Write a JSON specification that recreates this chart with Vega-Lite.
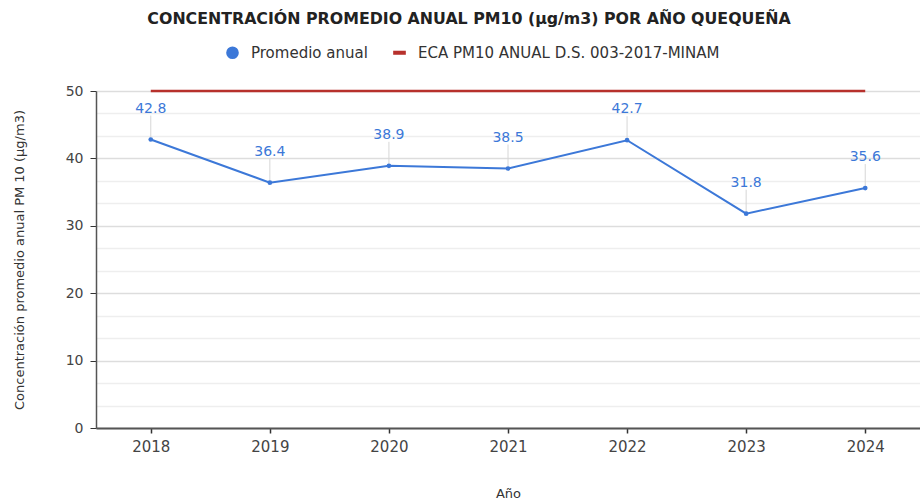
{
  "$schema": "https://vega.github.io/schema/vega-lite/v6.json",
  "width": 824,
  "height": 337,
  "autosize": {"type": "none"},
  "padding": {"left": 96, "top": 91, "right": 0, "bottom": 76},
  "background": "white",
  "title": {
    "text": "CONCENTRACIÓN PROMEDIO ANUAL PM10 (µg/m3) POR AÑO QUEQUEÑA",
    "font": "DejaVu Sans",
    "fontSize": 15.8,
    "fontWeight": "bold",
    "color": "#222222",
    "anchor": "middle",
    "dx": -39,
    "offset": 17
  },
  "datasets": {
    "d": [
      {"anio": "2018", "valor": 42.8, "serie": "Promedio anual"},
      {"anio": "2019", "valor": 36.4, "serie": "Promedio anual"},
      {"anio": "2020", "valor": 38.9, "serie": "Promedio anual"},
      {"anio": "2021", "valor": 38.5, "serie": "Promedio anual"},
      {"anio": "2022", "valor": 42.7, "serie": "Promedio anual"},
      {"anio": "2023", "valor": 31.8, "serie": "Promedio anual"},
      {"anio": "2024", "valor": 35.6, "serie": "Promedio anual"},
      {"anio": "2018", "valor": 50, "serie": "ECA PM10 ANUAL D.S. 003-2017-MINAM"},
      {"anio": "2019", "valor": 50, "serie": "ECA PM10 ANUAL D.S. 003-2017-MINAM"},
      {"anio": "2020", "valor": 50, "serie": "ECA PM10 ANUAL D.S. 003-2017-MINAM"},
      {"anio": "2021", "valor": 50, "serie": "ECA PM10 ANUAL D.S. 003-2017-MINAM"},
      {"anio": "2022", "valor": 50, "serie": "ECA PM10 ANUAL D.S. 003-2017-MINAM"},
      {"anio": "2023", "valor": 50, "serie": "ECA PM10 ANUAL D.S. 003-2017-MINAM"},
      {"anio": "2024", "valor": 50, "serie": "ECA PM10 ANUAL D.S. 003-2017-MINAM"}
    ]
  },
  "data": {"name": "d"},
  "encoding": {
    "x": {
      "field": "anio",
      "type": "ordinal",
      "scale": {"type": "point", "padding": 0.46},
      "axis": {
        "title": "Año",
        "titleFont": "DejaVu Sans",
        "titleFontSize": 13,
        "titleFontWeight": "normal",
        "titleColor": "#333333",
        "titlePadding": 33,
        "labelAngle": 0,
        "labelFont": "DejaVu Sans",
        "labelFontSize": 15,
        "labelColor": "#444444",
        "labelPadding": 6,
        "domainColor": "#555555",
        "domainWidth": 2,
        "tickColor": "#333333",
        "tickSize": 5,
        "tickWidth": 1.5,
        "grid": false
      }
    },
    "y": {
      "field": "valor",
      "type": "quantitative",
      "scale": {"domain": [0, 50], "nice": false},
      "axis": {
        "title": "Concentración promedio anual PM 10 (µg/m3)",
        "titleFont": "DejaVu Sans",
        "titleFontSize": 13,
        "titleFontWeight": "normal",
        "titleColor": "#333333",
        "titlePadding": 39,
        "values": [0, 3.3333, 6.6667, 10, 13.3333, 16.6667, 20, 23.3333, 26.6667, 30, 33.3333, 36.6667, 40, 43.3333, 46.6667, 50],
        "labelExpr": "datum.value % 10 === 0 ? format(datum.value, 'd') : ''",
        "labelFont": "DejaVu Sans",
        "labelFontSize": 14,
        "labelColor": "#444444",
        "labelPadding": 7,
        "domainColor": "#555555",
        "domainWidth": 1.5,
        "tickColor": "#333333",
        "tickSize": 6,
        "tickOpacity": {"condition": {"test": "datum.value % 10 === 0", "value": 1}, "value": 0},
        "grid": true,
        "gridColor": {"condition": {"test": "datum.value % 10 === 0", "value": "#dddddd"}, "value": "#eeeeee"},
        "gridWidth": 1.5
      }
    }
  },
  "layer": [
    {
      "transform": [{"filter": "datum.serie === 'ECA PM10 ANUAL D.S. 003-2017-MINAM'"}],
      "mark": {"type": "line", "color": "#b7312c", "strokeWidth": 2.5}
    },
    {
      "transform": [{"filter": "datum.serie === 'Promedio anual'"}],
      "mark": {"type": "rule", "color": "#d6d6d6", "strokeWidth": 1, "y2Offset": -24},
      "encoding": {"y2": {"field": "valor"}}
    },
    {
      "transform": [{"filter": "datum.serie === 'Promedio anual'"}],
      "mark": {"type": "line", "color": "#3c78d8", "strokeWidth": 2}
    },
    {
      "transform": [{"filter": "datum.serie === 'Promedio anual'"}],
      "mark": {"type": "point", "filled": true, "size": 22, "opacity": 1},
      "encoding": {
        "color": {
          "field": "serie",
          "type": "nominal",
          "scale": {"domain": ["Promedio anual", "ECA PM10 ANUAL D.S. 003-2017-MINAM"], "range": ["#3c78d8", "#b7312c"]},
          "legend": {
            "title": null,
            "orient": "none",
            "direction": "horizontal",
            "legendX": 129,
            "legendY": -46,
            "symbolSize": 160,
            "symbolStrokeWidth": 0,
            "labelFont": "DejaVu Sans",
            "labelFontSize": 15,
            "labelColor": "#333333",
            "labelOffset": 11,
            "labelLimit": 500,
            "columnPadding": 24
          }
        },
        "shape": {
          "field": "serie",
          "type": "nominal",
          "scale": {"domain": ["Promedio anual", "ECA PM10 ANUAL D.S. 003-2017-MINAM"], "range": ["circle", "M-1,-0.32H1V0.32H-1Z"]},
          "legend": {"title": null}
        }
      }
    },
    {
      "transform": [{"filter": "datum.serie === 'Promedio anual'"}],
      "mark": {"type": "text", "color": "#3c78d8", "font": "DejaVu Sans", "fontSize": 14, "baseline": "alphabetic", "dy": -27},
      "encoding": {"text": {"field": "valor", "type": "quantitative", "format": ".1f"}}
    }
  ]
}
